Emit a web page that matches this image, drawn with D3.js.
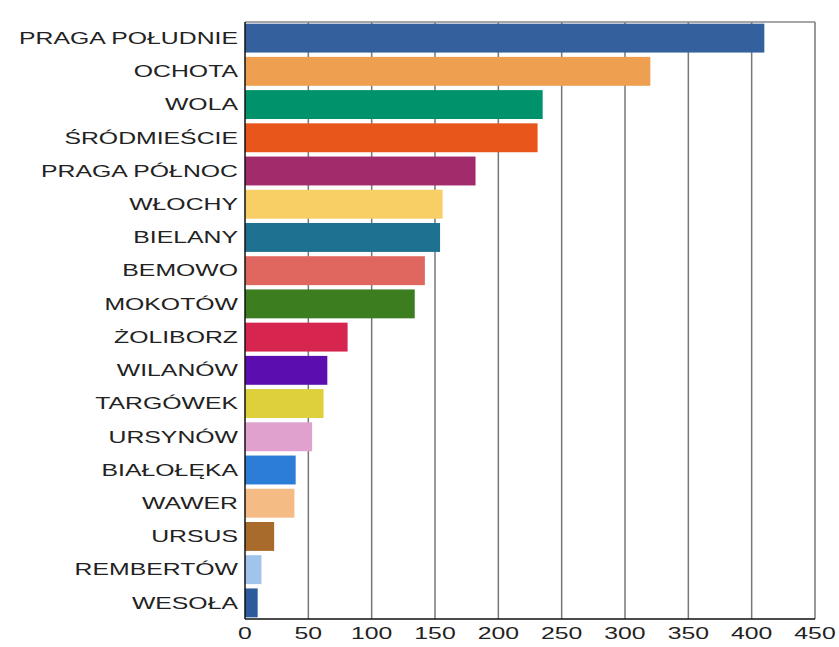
<!DOCTYPE html>
<html><head><meta charset="utf-8">
<script src="https://cdn.jsdelivr.net/npm/d3@7"></script>
<style>body{margin:0;background:#fff}svg{display:block}</style>
</head><body>
<script>
const districts = ["PRAGA POŁUDNIE","OCHOTA","WOLA","ŚRÓDMIEŚCIE","PRAGA PÓŁNOC","WŁOCHY","BIELANY","BEMOWO","MOKOTÓW","ŻOLIBORZ","WILANÓW","TARGÓWEK","URSYNÓW","BIAŁOŁĘKA","WAWER","URSUS","REMBERTÓW","WESOŁA"];
const values = [410,320,235,231,182,156,154,142,134,81,65,62,53,40,39,23,13,10];
const colors = ["#35609e","#ee9f50","#00936b","#e8561c","#a12b6b","#f8cf65","#1f7191","#e0675f","#3c7d1f","#d6264f","#5b0db0","#ddd03b","#e0a1cf","#2c7dd6","#f5bb85","#a86b2c","#a0c4ec","#2d5a9a"];
const xTicks = [0,50,100,150,200,250,300,350,400,450];

const W=839,H=647;
const m={left:245,right:839-815,top:22,bottom:647-619};
const svg=d3.select("body").append("svg").attr("width",W).attr("height",H);
const x=d3.scaleLinear().domain([0,450]).range([m.left,W-m.right]);
const y=d3.scaleBand().domain(districts).range([m.top,H-m.bottom]).paddingInner(0.13).paddingOuter(0.05);
const SX=1.55;

// grid
svg.append("g").selectAll("line").data(xTicks.slice(1)).join("line")
  .attr("x1",d=>x(d)).attr("x2",d=>x(d)).attr("y1",m.top).attr("y2",H-m.bottom)
  .attr("stroke","#777").attr("stroke-width",1.5);
// top border
svg.append("line").attr("x1",m.left).attr("x2",x(450)).attr("y1",m.top).attr("y2",m.top)
  .attr("stroke","#888").attr("stroke-width",1.5);

// bars
svg.append("g").selectAll("rect").data(districts).join("rect")
  .attr("x",x(0)).attr("y",d=>y(d)).attr("height",y.bandwidth())
  .attr("width",(d,i)=>x(values[i])-x(0)).attr("fill",(d,i)=>colors[i]);

// axes lines
svg.append("line").attr("x1",m.left).attr("x2",x(450)).attr("y1",H-m.bottom).attr("y2",H-m.bottom)
  .attr("stroke","#111").attr("stroke-width",1.5);
svg.append("line").attr("x1",m.left).attr("x2",m.left).attr("y1",m.top).attr("y2",H-m.bottom)
  .attr("stroke","#111").attr("stroke-width",1.5);

// category labels (horizontally stretched)
const lg=svg.append("g").attr("transform",`scale(${SX},1)`);
lg.selectAll("text").data(districts).join("text")
  .attr("x",238/SX).attr("y",d=>y(d)+y.bandwidth()/2).attr("dy","0.36em")
  .attr("text-anchor","end").attr("font-family","Liberation Sans, Arial, sans-serif")
  .attr("font-size",16).attr("fill","#222").text(d=>d);

// x tick labels
lg.append("g").selectAll("text").data(xTicks).join("text")
  .attr("x",d=>x(d)/SX).attr("y",H-m.bottom+20).attr("text-anchor","middle")
  .attr("font-family","Liberation Sans, Arial, sans-serif").attr("font-size",16).attr("fill","#222")
  .text(d=>d);
</script>
</body></html>
